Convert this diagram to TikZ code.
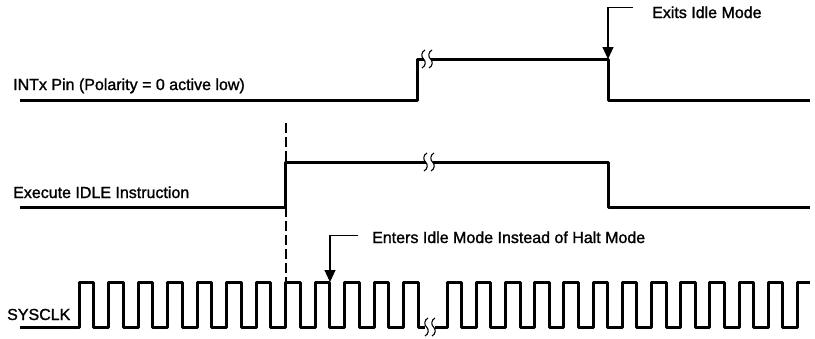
\documentclass[tikz,border=0pt]{standalone}
\usepackage{fontspec}
\setmainfont[BoldFont=Liberation Sans,BoldFeatures={FakeBold=1.3}]{Liberation Sans}
\usetikzlibrary{arrows.meta}
\begin{document}
\begin{tikzpicture}[x=1pt,y=-1pt,
  sig/.style={line width=3pt,line join=round,line cap=butt},
  leader/.style={line width=1.1pt,-{Triangle[length=12pt,width=11pt]}},
  lbl/.style={anchor=base west,inner sep=0pt,font=\fontsize{16}{19}\selectfont\bfseries},
  vdash/.style={line width=1.1pt,dash pattern=on 10pt off 4pt},
  brk/.pic={
    \fill[white] (-3.5,-3.5) rectangle (3.5,3.5);
    \foreach \dx in {-3.5,3.5}{
      \draw[line width=1.1pt] (\dx+1.5,-9) .. controls (\dx-2.5,-7) and (\dx-2.5,-2) .. (\dx,0)
        .. controls (\dx+2.5,2) and (\dx+2.5,7) .. (\dx-1.5,9);
    }
  }]
\useasboundingbox (0,0) rectangle (815,338);

% labels
\node[lbl] (intx) at (13,90) {INTx Pin (Polarity = 0 active low)};
\node[lbl] (exec) at (13,198) {Execute IDLE Instruction};
\node[lbl] (clk) at (7,320) {SYSCLK};
\node[lbl] (exits) at (652,18) {Exits Idle Mode};
\node[lbl] (enters) at (372,243) {Enters Idle Mode Instead of Halt Mode};

% INTx signal
\coordinate (i0) at (20,100);
\coordinate (iup) at (417,100);
\coordinate (idn) at (608,59);
\coordinate (i1) at (810,100);
\draw[sig] (i0) -- (iup) |- (idn) |- (i1);
\pic at (427,59) {brk};

% Execute signal
\coordinate (e0) at (20,207);
\coordinate (eup) at (285,207);
\coordinate (edn) at (608,162);
\coordinate (e1) at (810,207);
\draw[sig] (e0) -- (eup) |- (edn) |- (e1);
\pic at (429,162) {brk};

% dashed marker
\coordinate (dtop) at (286,123);
\coordinate (dbot) at (286,282);
\draw[vdash] (dtop) -- (dbot);

% SYSCLK
\coordinate (c0) at (20,327);
\coordinate (c1) at (79,327);
\draw[sig] (c0) -- (c1)
  \foreach \k in {1,...,11}{ -- ++(0,-45) -- ++(14.7,0) -- ++(0,45) -- ++(14.8,0) }
  -- ++(0,-45) -- ++(14.7,0) -- ++(0,45) -- (425,327);
\coordinate (c2) at (435,327);
\coordinate (c3) at (447,327);
\draw[sig] (c2) -- (c3)
  \foreach \k in {1,...,12}{ -- ++(0,-45) -- ++(14.6,0) -- ++(0,45) -- ++(14.6,0) }
  -- ++(0,-45) -- (810,282);
\pic at (430,327) {brk};

% leaders
\coordinate (exitpt) at (608,59);
\coordinate (enterpt) at (330,282);
\draw[leader] ([xshift=-19pt,yshift=5pt]exits.west) -| (exitpt);
\draw[leader] ([xshift=-14pt,yshift=2pt]enters.west) -| (enterpt);
\end{tikzpicture}
\end{document}
